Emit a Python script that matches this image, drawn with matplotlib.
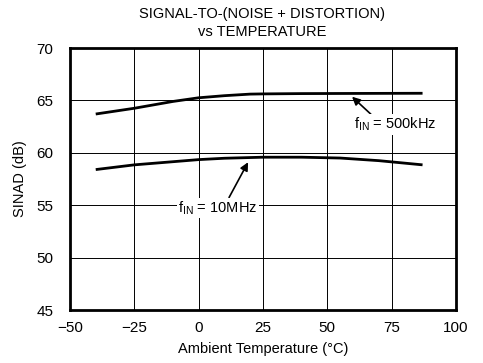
import matplotlib
matplotlib.use("Agg")
import matplotlib.pyplot as plt

plt.rcParams['font.family'] = ['Liberation Sans', 'DejaVu Sans']
fs = 10.5

temp = [-40, -25, -10, 0, 10, 20, 25, 40, 55, 70, 87]
sinad_500k = [63.7, 64.25, 64.9, 65.25, 65.45, 65.6, 65.62, 65.65, 65.66, 65.67, 65.68]
temp_10m = [-40, -25, -10, 0, 10, 25, 40, 55, 70, 87]
sinad_10m = [58.4, 58.85, 59.15, 59.35, 59.48, 59.58, 59.58, 59.5, 59.25, 58.85]

xticks = [-50, -25, 0, 25, 50, 75, 100]
yticks = [45, 50, 55, 60, 65, 70]

fig = plt.figure(figsize=(4.83, 3.63), dpi=100)
ax = fig.add_axes([70/483, 1 - 310/363, 386/483, 262/363])

ax.plot(temp, sinad_500k, color='black', lw=2.0, solid_capstyle='butt', zorder=3)
ax.plot(temp_10m, sinad_10m, color='black', lw=2.0, solid_capstyle='butt', zorder=3)

ax.set_xlim(-50, 100)
ax.set_ylim(45, 70)
ax.set_xticks(xticks)
ax.set_xticklabels([str(t).replace('-', '\u2212') for t in xticks])
ax.set_yticks(yticks)
ax.grid(True, color='black', lw=0.7)
ax.tick_params(axis='x', length=0, labelsize=fs + 0.5, pad=8)
ax.tick_params(axis='y', length=0, labelsize=fs + 0.5, pad=12)
for s in ax.spines.values():
    s.set_linewidth(2.0)

ax.set_xlabel('Ambient Temperature (°C)', fontsize=fs, labelpad=5)
ax.set_ylabel('SINAD (dB)', fontsize=fs, labelpad=7)

fig.text(262/483, 1 - 14/363, 'SIGNAL-TO-(NOISE + DISTORTION)', ha='center', va='center', fontsize=fs)
fig.text(262/483, 1 - 32/363, 'vs TEMPERATURE', ha='center', va='center', fontsize=fs)

bb = dict(boxstyle='square,pad=0.1', fc='white', ec='none')
ax.annotate(r'f$_{\mathregular{IN}}$ = 500kHz', xy=(59.6, 65.35), xytext=(76.5, 62.7),
            ha='center', va='center', fontsize=fs, bbox=bb,
            arrowprops=dict(arrowstyle='-|>', color='black', lw=1.2, mutation_scale=12,
                            shrinkA=0, shrinkB=0, relpos=(0.22, 1.0)), zorder=4)
ax.annotate(r'f$_{\mathregular{IN}}$ = 10MHz', xy=(19.2, 59.1), xytext=(7.5, 54.75),
            ha='center', va='center', fontsize=fs, bbox=bb,
            arrowprops=dict(arrowstyle='-|>', color='black', lw=1.2, mutation_scale=12,
                            shrinkA=0, shrinkB=0, relpos=(0.63, 1.0)), zorder=4)

fig.savefig('out.png', dpi=100)
